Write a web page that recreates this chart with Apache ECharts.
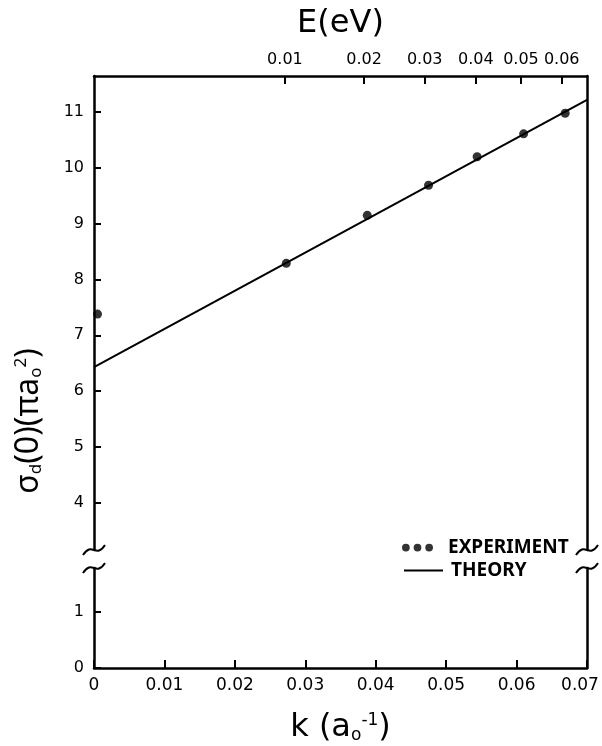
<!DOCTYPE html>
<html>
<head>
<meta charset="utf-8">
<script src="https://cdn.jsdelivr.net/npm/echarts@6/dist/echarts.min.js"></script>
<style>html,body{margin:0;padding:0;background:#fff}#c{width:602px;height:746px}</style>
</head>
<body>
<div id="c"></div>
<script>
// ---- data ----
const RYDBERG_EV = 13.606;               // E(eV) = 13.606 * k^2  (k in a0^-1)
const kTicks = [0, 0.01, 0.02, 0.03, 0.04, 0.05, 0.06, 0.07];
const eTicks = [0.01, 0.02, 0.03, 0.04, 0.05, 0.06];
const yTicksUpper = [4, 5, 6, 7, 8, 9, 10, 11];
const yTicksLower = [0, 1];
const expK = [0.0005, 0.0273, 0.0388, 0.0475, 0.0544, 0.0610, 0.0669];
const expSigma = [7.38, 8.29, 9.15, 9.69, 10.20, 10.61, 10.98];
const theoryK = [0, 0.07];
const theorySigma = [6.43, 11.22];

const FONT = 'Noto Sans';
const TFONT = 'DejaVu Sans';
const eTickK = eTicks.map(e => Math.sqrt(e / RYDBERG_EV));

const L = 94, R = 587, TOP = 76, BOT = 668, BRK_U = 550, BRK_L = 568;
const pxPerUnit = 55.8;

const chart = echarts.init(document.getElementById('c'), null, {renderer: 'canvas'});

const axisLineStyle = {color: '#000', width: 2.5};
const tickStyle = {color: '#000', width: 2};
const labelStyle = {color: '#000', fontSize: 16, fontFamily: TFONT};

function squiggle(x, y) {
  return {
    type: 'bezierCurve',
    shape: {x1: x - 11, y1: y + 5, x2: x + 11, y2: y - 5, cpx1: x - 2, cpy1: y - 9, cpx2: x + 2, cpy2: y + 9},
    style: {stroke: '#000', lineWidth: 2, fill: null}
  };
}

const kMax = kTicks[kTicks.length - 1];

const option = {
  animation: false,
  backgroundColor: '#fff',
  grid: [
    {left: L, width: R - L, top: TOP, height: BRK_U - TOP, containLabel: false, outerBoundsMode: 'none'},
    {left: L, width: R - L, top: BRK_L, height: BOT - BRK_L, containLabel: false, outerBoundsMode: 'none'}
  ],
  xAxis: [
    {
      gridIndex: 0, type: 'value', position: 'top', min: 0, max: kMax,
      name: 'E(eV)', nameLocation: 'middle', nameGap: 36,
      nameTextStyle: {color: '#000', fontSize: 32, fontFamily: TFONT},
      axisLine: {show: true, lineStyle: axisLineStyle},
      axisTick: {show: true, inside: true, length: 8, lineStyle: tickStyle, customValues: eTickK},
      axisLabel: {show: true, margin: 8, ...labelStyle, fontSize: 16, customValues: eTickK,
        formatter: v => (RYDBERG_EV * v * v).toFixed(2)},
      splitLine: {show: false}
    },
    {
      gridIndex: 1, type: 'value', position: 'bottom', min: 0, max: kMax, interval: 0.01,
      name: 'k (a{s|o}{sup|-1})', nameLocation: 'middle', nameGap: 44,
      nameTextStyle: {color: '#000', fontSize: 32, fontFamily: TFONT,
        rich: {s: {fontSize: 17, fontFamily: TFONT, color: '#000', verticalAlign: 'bottom', padding: [13, 0, 0, 0]},
               sup: {fontSize: 17, fontFamily: TFONT, color: '#000', verticalAlign: 'top', padding: [0, 0, 13, 0]}}},
      axisLine: {show: true, lineStyle: axisLineStyle},
      axisTick: {show: true, inside: true, length: 8, lineStyle: tickStyle, customValues: kTicks},
      axisLabel: {show: true, margin: 9, ...labelStyle, fontSize: 17, customValues: kTicks,
        formatter: v => v === 0 ? '0' : (Math.abs(v - kMax) < 1e-9 ? '{last|' + v.toFixed(2) + '}' : v.toFixed(2)),
        rich: {last: {fontSize: 17, fontFamily: TFONT, color: '#000', padding: [0, 14, 0, 0]}}},
      splitLine: {show: false}
    }
  ],
  yAxis: [
    {
      gridIndex: 0, type: 'value', position: 'left',
      min: 4 - (BRK_U - 502.7) / pxPerUnit, max: 4 + (502.7 - TOP) / pxPerUnit,
      axisLine: {show: true, lineStyle: axisLineStyle},
      axisTick: {show: true, inside: true, length: 7, lineStyle: tickStyle, customValues: yTicksUpper},
      axisLabel: {show: true, margin: 10, ...labelStyle, customValues: yTicksUpper},
      splitLine: {show: false}
    },
    {
      gridIndex: 0, type: 'value', position: 'right',
      min: 4 - (BRK_U - 502.7) / pxPerUnit, max: 4 + (502.7 - TOP) / pxPerUnit,
      axisLine: {show: true, lineStyle: axisLineStyle},
      axisTick: {show: false}, axisLabel: {show: false}, splitLine: {show: false}
    },
    {
      gridIndex: 1, type: 'value', position: 'left', min: 0, max: (BOT - BRK_L) / pxPerUnit,
      axisLine: {show: true, lineStyle: axisLineStyle},
      axisTick: {show: true, inside: true, length: 7, lineStyle: tickStyle, customValues: yTicksLower},
      axisLabel: {show: true, margin: 10, ...labelStyle, customValues: yTicksLower},
      splitLine: {show: false}
    },
    {
      gridIndex: 1, type: 'value', position: 'right', min: 0, max: (BOT - BRK_L) / pxPerUnit,
      axisLine: {show: true, lineStyle: axisLineStyle},
      axisTick: {show: false}, axisLabel: {show: false}, splitLine: {show: false}
    }
  ],
  legend: [
    {
      data: [{name: 'EXPERIMENT', icon: 'path://M0,4a4,4 0 1,0 8,0a4,4 0 1,0 -8,0M12,4a4,4 0 1,0 8,0a4,4 0 1,0 -8,0M24,4a4,4 0 1,0 8,0a4,4 0 1,0 -8,0'}],
      left: 402, top: 538, itemWidth: 31, itemHeight: 8, padding: 0,
      selectedMode: false,
      textStyle: {color: '#000', fontSize: 19, fontWeight: 'bold', fontFamily: FONT, padding: [0, 0, 0, 10]}
    },
    {
      data: [{name: 'THEORY', icon: 'path://M0,0H40V2H0Z'}],
      left: 404, top: 561, itemWidth: 39, itemHeight: 2, padding: 0,
      selectedMode: false,
      textStyle: {color: '#000', fontSize: 19, fontWeight: 'bold', fontFamily: FONT, padding: [0, 0, 0, 3]}
    }
  ],
  series: [
    {
      name: 'THEORY', type: 'line', xAxisIndex: 0, yAxisIndex: 0,
      data: theoryK.map((k, i) => [k, theorySigma[i]]),
      showSymbol: false, lineStyle: {color: '#000', width: 2}, itemStyle: {color: '#000'},
      z: 3
    },
    {
      name: 'EXPERIMENT', type: 'scatter', xAxisIndex: 0, yAxisIndex: 0,
      data: expK.map((k, i) => [k, expSigma[i]]),
      symbol: 'circle', symbolSize: 9, itemStyle: {color: '#000'}, clip: false, z: 4
    }
  ],
  graphic: [
    squiggle(L, BRK_U), squiggle(L, BRK_L),
    squiggle(R, BRK_U), squiggle(R, BRK_L),
    {
      type: 'text', x: 29, y: 421, rotation: Math.PI / 2,
      style: {
        text: 'σ{s|d}(0)(πa{s|o}{sup|2})',
        fill: '#000', fontSize: 32, fontFamily: FONT, align: 'center', verticalAlign: 'middle',
        rich: {
          s: {fontSize: 17, fontFamily: FONT, fill: '#000', verticalAlign: 'bottom', padding: [14, 0, 0, 0]},
          sup: {fontSize: 17, fontFamily: FONT, fill: '#000', verticalAlign: 'top', padding: [0, 0, 14, 0]}
        }
      }
    }
  ]
};
chart.setOption(option);
</script>
</body>
</html>
